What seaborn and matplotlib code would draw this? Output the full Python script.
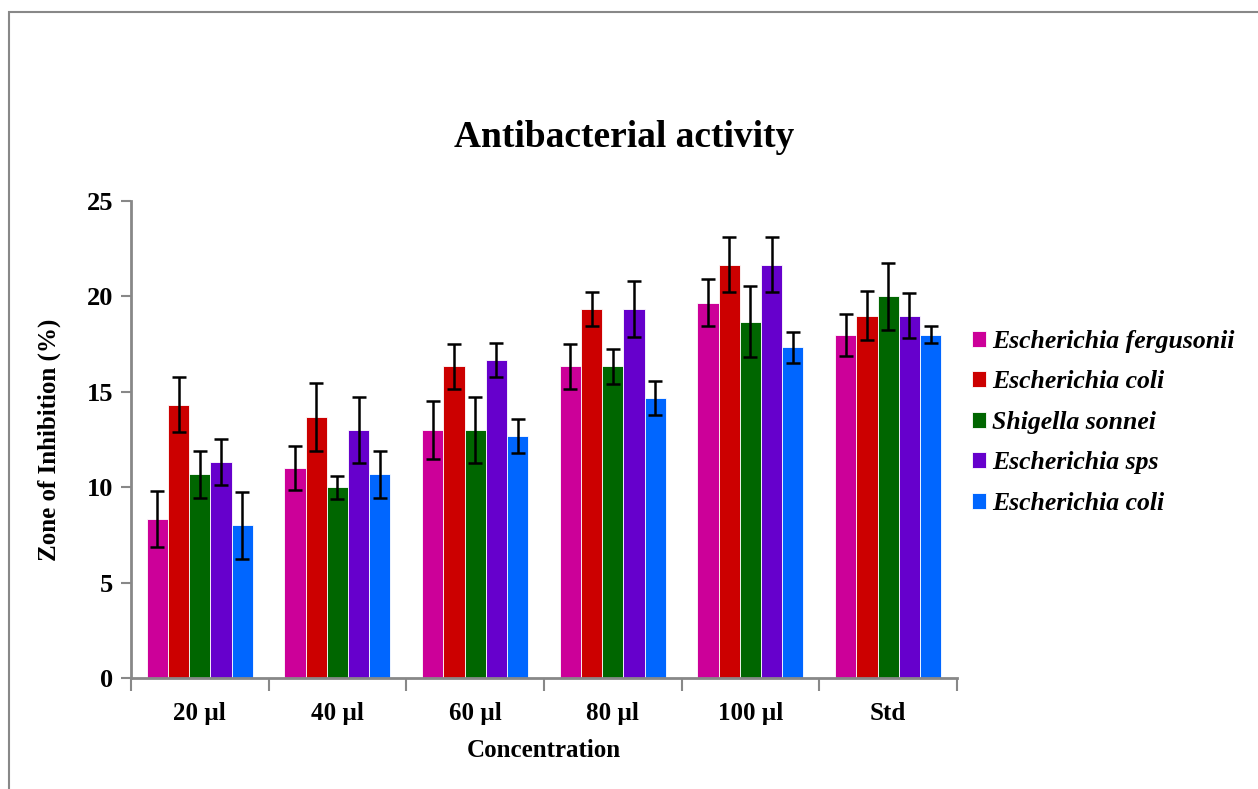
import numpy as np
import pandas as pd
import seaborn as sns
import matplotlib.pyplot as plt
from matplotlib.patches import Rectangle

sns.set_style("white")
plt.rcParams['font.family'] = ['Liberation Serif', 'DejaVu Serif']
plt.rcParams['text.color'] = 'black'
plt.rcParams['axes.labelcolor'] = 'black'

# data
concentrations = ['20 µl', '40 µl', '60 µl', '80 µl', '100 µl', 'Std']
strains = ['Escherichia fergusonii', 'Escherichia coli', 'Shigella sonnei',
           'Escherichia sps', 'Escherichia coli ']
colors = ['#CC0099', '#CC0000', '#006600', '#6600CC', '#0066FF']

e_fergusonii = [8.33, 11.0, 13.0, 16.33, 19.67, 18.0]
e_coli_1 = [14.33, 13.67, 16.33, 19.33, 21.67, 19.0]
s_sonnei = [10.67, 10.0, 13.0, 16.33, 18.67, 20.0]
e_sps = [11.33, 13.0, 16.67, 19.33, 21.67, 19.0]
e_coli_2 = [8.0, 10.67, 12.67, 14.67, 17.33, 18.0]

err_fergusonii = [1.45, 1.16, 1.54, 1.2, 1.24, 1.1]
err_coli_1 = [1.45, 1.78, 1.2, 0.88, 1.46, 1.27]
err_sonnei = [1.22, 0.6, 1.74, 0.9, 1.87, 1.77]
err_sps = [1.22, 1.72, 0.89, 1.46, 1.46, 1.16]
err_coli_2 = [1.76, 1.24, 0.9, 0.9, 0.8, 0.43]

values = [e_fergusonii, e_coli_1, s_sonnei, e_sps, e_coli_2]
errors = [err_fergusonii, err_coli_1, err_sonnei, err_sps, err_coli_2]

rows = []
for s, vals, errs in zip(strains, values, errors):
    for c, v, e in zip(concentrations, vals, errs):
        rows.append({'Concentration': c, 'Strain': s, 'Zone': v, 'Err': e})
df = pd.DataFrame(rows)

fig = plt.figure(figsize=(12.58, 7.89), dpi=100)
ax = fig.add_axes([0.1041, 0.1407, 0.6566, 0.6045])

sns.barplot(data=df, x='Concentration', y='Zone', hue='Strain',
            order=concentrations, hue_order=strains, palette=colors,
            width=0.77, errorbar=None, edgecolor='white', linewidth=0.6,
            saturation=1, ax=ax)

# error bars on the bar centres
for cont, s in zip(ax.containers, strains):
    sub = df[df['Strain'] == s].set_index('Concentration').loc[concentrations]
    xs = [p.get_x() + p.get_width() / 2 for p in cont.patches]
    ax.errorbar(xs, sub['Zone'].values, yerr=sub['Err'].values, fmt='none',
                ecolor='black', elinewidth=1.8, capsize=5, capthick=1.8, zorder=5)

ax.set_ylim(0, 25)
ax.set_xlim(-0.5, len(concentrations) - 0.5)
ax.set_yticks([0, 5, 10, 15, 20, 25])
ax.set_xticks(np.arange(len(concentrations)))
ax.set_xticklabels(concentrations)
ax.set_xticks(np.arange(len(concentrations) + 1) - 0.5, minor=True)

for side in ['top', 'right']:
    ax.spines[side].set_visible(False)
for side in ['left', 'bottom']:
    ax.spines[side].set_color('#888888')
    ax.spines[side].set_linewidth(2)

ax.tick_params(axis='y', which='major', left=True, length=7, width=1.5,
               color='#888888', labelcolor='black', labelsize=19, pad=6)
ax.tick_params(axis='x', which='major', bottom=False, labelcolor='black',
               labelsize=18, pad=14)
ax.tick_params(axis='x', which='minor', bottom=True, length=9, width=1.5,
               color='#888888')
for lab in ax.get_xticklabels() + ax.get_yticklabels():
    lab.set_fontweight('bold')

ax.set_xlabel('Concentration', fontsize=18, fontweight='bold', labelpad=10)
ax.set_ylabel('Zone of Inhibition (%)', fontsize=18, fontweight='bold', labelpad=18)

fig.text(0.496, 0.826, 'Antibacterial activity', ha='center', va='center',
         fontsize=27, fontweight='bold')

handles, labels = ax.get_legend_handles_labels()
leg = ax.legend(handles, [l.strip() for l in labels], loc='center left',
                bbox_to_anchor=(0.99, 0.536), frameon=False,
                prop={'size': 18.5, 'weight': 'bold', 'style': 'italic'},
                handlelength=0.55, handleheight=0.6, handletextpad=0.25,
                labelspacing=0.68)

# chart area border (cropped at right and bottom)
fig.add_artist(Rectangle((0.0068, -0.1), 1.2, 0.1 + 0.9854, fill=False,
                         edgecolor='#888888', linewidth=1.5,
                         transform=fig.transFigure, clip_on=False))

fig.savefig('out.png', dpi=100)
